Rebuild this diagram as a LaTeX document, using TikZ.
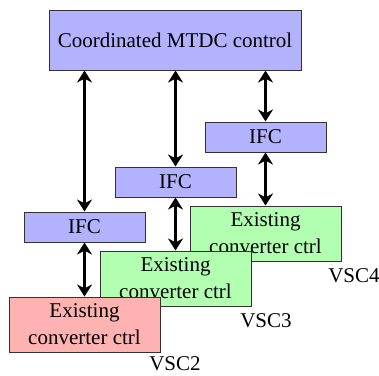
\documentclass[tikz,border=0pt]{standalone}
\usepackage{fontspec}
\setmainfont{LiberationSerif-Regular.ttf}
\usetikzlibrary{arrows.meta, positioning}
\definecolor{ctrlblue}{RGB}{178, 178, 255}
\definecolor{ctrlgreen}{RGB}{178, 255, 178}
\definecolor{ctrlred}{RGB}{255, 178, 178}
\definecolor{edge}{RGB}{50, 50, 50}
\begin{document}
\begin{tikzpicture}[x=0.5pt, y=-0.5pt,
    font=\rmfamily\fontsize{10.5}{13.5}\selectfont,
    blk/.style={draw=edge, line width=0.5pt, inner sep=0pt, align=center},
    ifc/.style={blk, fill=ctrlblue, minimum width=60.5pt, minimum height=15pt},
    conv/.style={blk, minimum width=75.5pt, minimum height=27.5pt},
    link/.style={{Stealth[length=6pt,width=7.5pt]}-{Stealth[length=6pt,width=7.5pt]}, line width=1.6pt}]
  \useasboundingbox (0,0) rectangle (379,375);
  \node[blk, fill=ctrlblue, minimum width=126pt, minimum height=30pt]
    (mtdc) at (175,40) {Coordinated MTDC control};
  % interface controllers
  \node[ifc] (ifc4) at (265.5,137) {IFC};
  \node[ifc] (ifc3) at (175.5,182) {IFC};
  \node[ifc] (ifc2) at (84.5,227) {IFC};
  % existing converter controls, back to front
  \node[conv, fill=ctrlgreen] (vsc4) at (265.5,233.5) {Existing\\converter ctrl};
  \node[conv, fill=ctrlgreen] (vsc3) at (175.5,278.5) {Existing\\converter ctrl};
  \node[conv, fill=ctrlred] (vsc2) at (84.5,324.5) {Existing\\converter ctrl};
  \node (lbl4) at (354,276) {VSC4};
  \node (lbl3) at (266,321) {VSC3};
  \node (lbl2) at (175,364) {VSC2};
  \draw[link] (mtdc.south -| ifc2) -- (ifc2.north);
  \draw[link] (mtdc.south -| ifc3) -- (ifc3.north);
  \draw[link] (mtdc.south -| ifc4) -- (ifc4.north);
  \draw[link] (ifc4) -- (vsc4);
  \draw[link] (ifc3) -- (vsc3);
  \draw[link] (ifc2) -- (vsc2);
\end{tikzpicture}
\end{document}
